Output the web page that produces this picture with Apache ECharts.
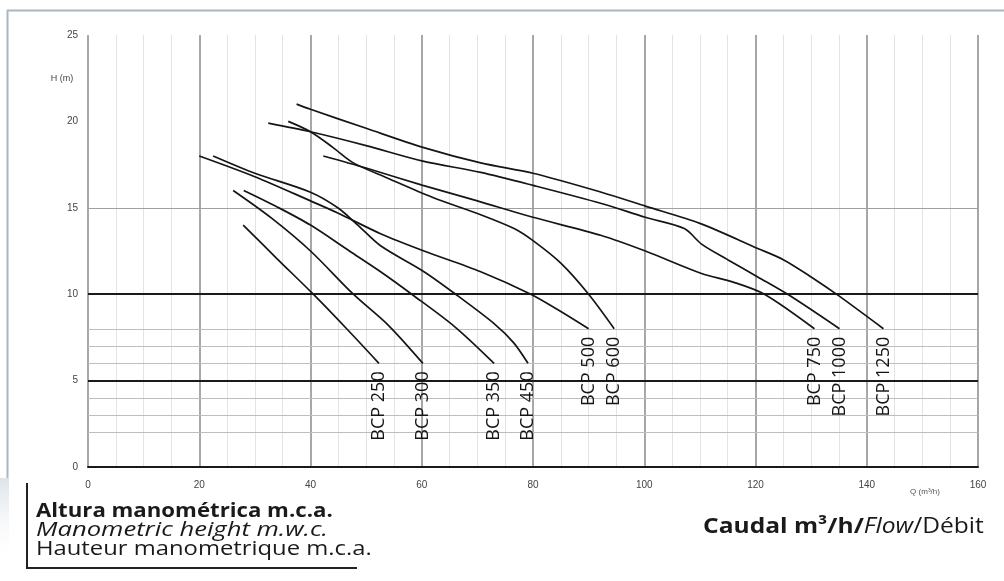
<!DOCTYPE html>
<html><head><meta charset="utf-8">
<script src="https://cdn.jsdelivr.net/npm/echarts@6/dist/echarts.min.js"></script>
<style>html,body{margin:0;padding:0;background:#fff}#c{width:1004px;height:581px}</style>
</head><body><div id="c"></div>
<script>
// ---- data (Q m3/h, H m) ----
const seriesNames = ['BCP 250','BCP 300','BCP 350','BCP 450','BCP 500','BCP 600','BCP 750','BCP 1000','BCP 1250'];
const bcp250  = [[27.9,14.0],[34,12.05],[40.5,10.0],[46.5,8.0],[52.3,6.0]];
const bcp300  = [[26.1,16.0],[33,14.4],[40,12.5],[47.7,10.0],[54,8.2],[60.2,6.0]];
const bcp350  = [[28,16.0],[34,15.05],[40,14.0],[47,12.5],[52.6,11.3],[58.2,10.0],[66,8.1],[73,6.0]];
const bcp450  = [[22.5,18.0],[30,17.0],[40,15.9],[44.9,15.0],[48.5,14.0],[52.6,12.8],[60.4,11.3],[66.5,9.9],[73,8.3],[76.5,7.2],[79.1,6.0]];
const bcp500  = [[20,18.0],[30,16.8],[40,15.4],[44.9,14.7],[52.6,13.5],[60.4,12.5],[70.6,11.3],[79.6,10.0],[85,9.0],[90,8.0]];
const bcp600  = [[36,20.0],[40,19.4],[44,18.5],[47.7,17.6],[54,16.7],[62,15.6],[70.6,14.6],[76.6,13.8],[80,13.1],[85,11.8],[90,10.0],[94.6,8.0]];
const bcp750  = [[42.3,18.0],[50,17.3],[60.2,16.3],[70,15.4],[80,14.45],[92.3,13.4],[100.2,12.5],[110.3,11.2],[116,10.7],[121.6,10.0],[130.6,8.0]];
const bcp1000 = [[32.4,19.9],[40,19.4],[50,18.6],[60.2,17.7],[70.6,17.05],[80,16.3],[92.3,15.25],[100.2,14.45],[107.2,13.8],[110.3,12.9],[115,12.0],[120.4,11.0],[126,9.95],[135.1,8.0]];
const bcp1250 = [[37.5,21.0],[40,20.7],[50,19.6],[60.2,18.5],[70.6,17.6],[80,17.0],[92.3,15.9],[100.2,15.1],[110,14.1],[120.4,12.65],[125,12.0],[130,11.0],[135,9.9],[143,8.0]];
const curves = [bcp250,bcp300,bcp350,bcp450,bcp500,bcp600,bcp750,bcp1000,bcp1250];

const hMajor = [5, 10];
const hMid = [15];
const hMinor = [2, 3, 4, 6, 7, 8];

const chart = echarts.init(document.getElementById('c'), null, {renderer: 'canvas'});

const series = curves.map((pts, k) => ({
  name: seriesNames[k],
  type: 'line',
  smooth: 0.3,
  silent: true,
  symbol: 'circle',
  symbolSize: 0,
  showSymbol: true,
  z: 3,
  lineStyle: {color: '#151515', width: 1.7},
  itemStyle: {color: '#151515'},
  emphasis: {disabled: true},
  data: pts.map((p, i) => i === pts.length - 1 ? {
    value: p,
    label: {
      show: true, formatter: seriesNames[k], rotate: 90, position: 'bottom', distance: 8,
      align: 'right', verticalAlign: 'middle',
      fontFamily: 'Open Sans', fontSize: 18, color: '#151515'
    }
  } : {value: p, label: {show: false}}),
  markLine: k === 0 ? {
    silent: true, symbol: ['none', 'none'], z: 1, animation: false,
    label: {show: false},
    emphasis: {disabled: true},
    data: [
      ...hMinor.map(v => ({yAxis: v, lineStyle: {color: '#bdbdbd', width: 1, type: 'solid'}})),
      ...hMid.map(v => ({yAxis: v, lineStyle: {color: '#a0a0a0', width: 1.2, type: 'solid'}})),
      ...hMajor.map(v => ({yAxis: v, lineStyle: {color: '#1a1a1a', width: 2, type: 'solid'}}))
    ]
  } : undefined
}));

const axisLabelStyle = {color: '#444', fontFamily: 'Liberation Sans', fontSize: 10};

chart.setOption({
  animation: false,
  backgroundColor: '#fff',
  grid: {left: 88, right: 26, top: 35, bottom: 114},
  xAxis: {
    type: 'value', min: 0, max: 160, interval: 20,
    axisLine: {show: true, onZero: false, lineStyle: {color: '#1a1a1a', width: 2}},
    axisTick: {show: false},
    axisLabel: Object.assign({margin: 13}, axisLabelStyle),
    splitLine: {show: true, lineStyle: {color: '#8a8a8a', width: 1.5}},
    minorTick: {show: false, splitNumber: 4},
    minorSplitLine: {show: true, lineStyle: {color: '#e3e3e3', width: 1}}
  },
  yAxis: {
    type: 'value', min: 0, max: 25, interval: 5,
    axisLine: {show: false},
    axisTick: {show: false},
    axisLabel: Object.assign({margin: 10}, axisLabelStyle),
    splitLine: {show: false}
  },
  series: series,
  graphic: [
    {type: 'line', silent: true, shape: {x1: 7, y1: 10.5, x2: 1004, y2: 10.5}, style: {stroke: '#a9b7c2', lineWidth: 2}},
    {type: 'line', silent: true, shape: {x1: 7.5, y1: 10, x2: 7.5, y2: 480}, style: {stroke: '#a9b7c2', lineWidth: 2}},
    {type: 'rect', silent: true, shape: {x: 0, y: 478, width: 9, height: 90},
      style: {fill: new echarts.graphic.LinearGradient(0, 0, 0, 1, [{offset: 0, color: '#dde4e9'}, {offset: 1, color: 'rgba(255,255,255,0)'}])}},
    {type: 'polyline', silent: true, shape: {points: [[27, 483], [27, 568], [357, 568]]}, style: {stroke: '#222', lineWidth: 2, fill: null}},
    {type: 'text', silent: true, x: 62, y: 79, style: {text: 'H (m)', font: '9px Liberation Sans', fill: '#444', align: 'center', verticalAlign: 'middle'}},
    {type: 'text', silent: true, x: 925, y: 492, style: {text: 'Q (m³/h)', font: '8px Liberation Sans', fill: '#555', align: 'center', verticalAlign: 'middle'}},
    {type: 'text', silent: true, x: 36, y: 511, scaleX: 1.11, style: {text: 'Altura manométrica m.c.a.', font: 'bold 20px Open Sans', fill: '#1a1a1a', align: 'left', verticalAlign: 'middle'}},
    {type: 'text', silent: true, x: 36, y: 530, scaleX: 1.28, style: {text: 'Manometric height m.w.c.', font: 'italic 20px Open Sans', fill: '#1a1a1a', align: 'left', verticalAlign: 'middle'}},
    {type: 'text', silent: true, x: 36, y: 549, scaleX: 1.19, style: {text: 'Hauteur manometrique m.c.a.', font: '20px Open Sans', fill: '#1a1a1a', align: 'left', verticalAlign: 'middle'}},
    {type: 'text', silent: true, x: 703, y: 527, scaleX: 1.17, style: {
      text: '{b|Caudal m³/h/}{i|Flow}{n|/Débit}', align: 'left', verticalAlign: 'middle',
      rich: {
        b: {font: 'bold 21px Open Sans', fill: '#1a1a1a'},
        i: {font: 'italic 21px Open Sans', fill: '#1a1a1a'},
        n: {font: '21px Open Sans', fill: '#1a1a1a'}
      }
    }}
  ]
});
</script>
</body></html>
